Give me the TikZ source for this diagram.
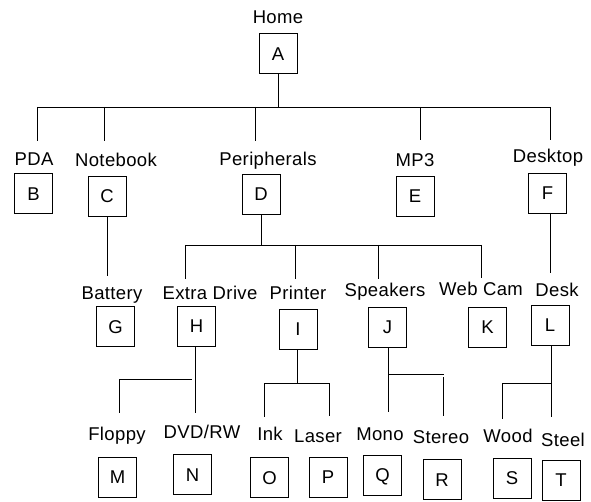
\documentclass[tikz,border=0pt]{standalone}
\usepackage{fontspec}
\setmainfont{Liberation Sans}[LetterSpace=2]
\begin{document}
\begin{tikzpicture}[x=1pt,y=-1pt,
  box/.style={draw,line width=0.9pt,minimum width=38pt,minimum height=40pt,inner sep=0pt,text height=13.2pt,text depth=0pt},
  lab/.style={anchor=base,inner sep=0pt},
  ln/.style={line width=0.9pt}]
\fontsize{18.5}{21}\selectfont
\useasboundingbox (0,0) rectangle (591,502);
% labels
\node[lab] (lHome) at (278,24) {Home};
\node[lab] (lPDA) at (34,166) {PDA};
\node[lab] (lNote) at (116,167) {Notebook};
\node[lab] (lPeri) at (268,166) {Peripherals};
\node[lab] (lMP3) at (415,167) {MP3};
\node[lab] (lDesktop) at (548,163) {Desktop};
\node[lab] (lBatt) at (112,300) {Battery};
\node[lab] (lExtra) at (210,300) {Extra Drive};
\node[lab] (lPrint) at (298,299) {Printer};
\node[lab] (lSpeak) at (385,297) {Speakers};
\node[lab] (lWeb) at (481,296) {Web Cam};
\node[lab] (lDesk) at (557,297) {Desk};
\node[lab] (lFloppy) at (117,440) {Floppy};
\node[lab] (lDVD) at (202,438) {DVD/RW};
\node[lab] (lInk) at (270,440) {Ink};
\node[lab] (lLaser) at (318,442) {Laser};
\node[lab] (lMono) at (380,440) {Mono};
\node[lab] (lStereo) at (441,443) {Stereo};
\node[lab] (lWood) at (508,442) {Wood};
\node[lab] (lSteel) at (563,446) {Steel};
% boxes
\node[box] (A) at (278,53.5) {A};
\node[box] (B) at (33.5,193.5) {B};
\node[box] (C) at (107,196) {C};
\node[box] (D) at (261,194) {D};
\node[box] (E) at (415,196) {E};
\node[box] (F) at (547.5,193) {F};
\node[box] (G) at (115.5,326.5) {G};
\node[box] (H) at (196.5,326) {H};
\node[box] (I) at (298,329) {I};
\node[box] (J) at (387.5,327) {J};
\node[box] (K) at (487.5,327) {K};
\node[box] (L) at (550,325) {L};
\node[box] (M) at (117.5,477) {M};
\node[box] (N) at (192.5,474.5) {N};
\node[box] (O) at (269.5,477.5) {O};
\node[box] (P) at (328,477) {P};
\node[box] (Q) at (382.5,475) {Q};
\node[box] (R) at (442,479.5) {R};
\node[box] (S) at (512,478) {S};
\node[box] (T) at (561,480) {T};
% junction coordinates
\coordinate (a1) at (278,107);
\coordinate (bL) at (37,107);
\coordinate (bR) at (550,107);
\coordinate (dB) at (37,141);
\coordinate (dC) at (104,141);
\coordinate (dD) at (255,141);
\coordinate (dE) at (420,140);
\coordinate (dF) at (550,140);
\coordinate (c1) at (107,276);
\coordinate (d1) at (261,245);
\coordinate (dbL) at (185,245);
\coordinate (dbR) at (481,245);
\coordinate (dH) at (185,279);
\coordinate (dI) at (295,279);
\coordinate (dJ) at (378,279);
\coordinate (dK) at (481,278);
\coordinate (fT) at (550,213);
\coordinate (f1) at (550,273);
\coordinate (h1) at (195,413);
\coordinate (hL) at (119,379);
\coordinate (hR) at (192,379);
\coordinate (hM) at (119,413);
\coordinate (i1) at (297,383);
\coordinate (iL) at (264,383);
\coordinate (iR) at (329,383);
\coordinate (iO) at (264,417);
\coordinate (iP) at (329,416);
\coordinate (j1) at (388,412);
\coordinate (jL) at (388,374);
\coordinate (jR) at (444,374);
\coordinate (jRt) at (443,377);
\coordinate (jRb) at (443,416);
\coordinate (lT) at (551,345);
\coordinate (l1) at (551,417);
\coordinate (lL) at (502,383);
\coordinate (lR) at (551,383);
\coordinate (lS) at (502,419);
% connectors
\draw[ln] (A.south) -- (a1);
\draw[ln] (bL) -- (bR);
\draw[ln] (bL) -- (dB);
\draw[ln] (dC |- bL) -- (dC);
\draw[ln] (dD |- bL) -- (dD);
\draw[ln] (dE |- bL) -- (dE);
\draw[ln] (bR) -- (dF);
\draw[ln] (C.south) -- (c1);
\draw[ln] (D.south) -- (d1);
\draw[ln] (dbL) -- (dbR);
\draw[ln] (dbL) -- (dH);
\draw[ln] (dI |- dbL) -- (dI);
\draw[ln] (dJ |- dbL) -- (dJ);
\draw[ln] (dbR) -- (dK);
\draw[ln] (fT) -- (f1);
\draw[ln] (H.south -| h1) -- (h1);
\draw[ln] (hL) -- (hR);
\draw[ln] (hL) -- (hM);
\draw[ln] (I.south -| i1) -- (i1);
\draw[ln] (iL) -- (iR);
\draw[ln] (iL) -- (iO);
\draw[ln] (iR) -- (iP);
\draw[ln] (J.south -| j1) -- (j1);
\draw[ln] (jL) -- (jR);
\draw[ln] (jRt) -- (jRb);
\draw[ln] (lT) -- (l1);
\draw[ln] (lL) -- (lR);
\draw[ln] (lL) -- (lS);
\end{tikzpicture}
\end{document}
